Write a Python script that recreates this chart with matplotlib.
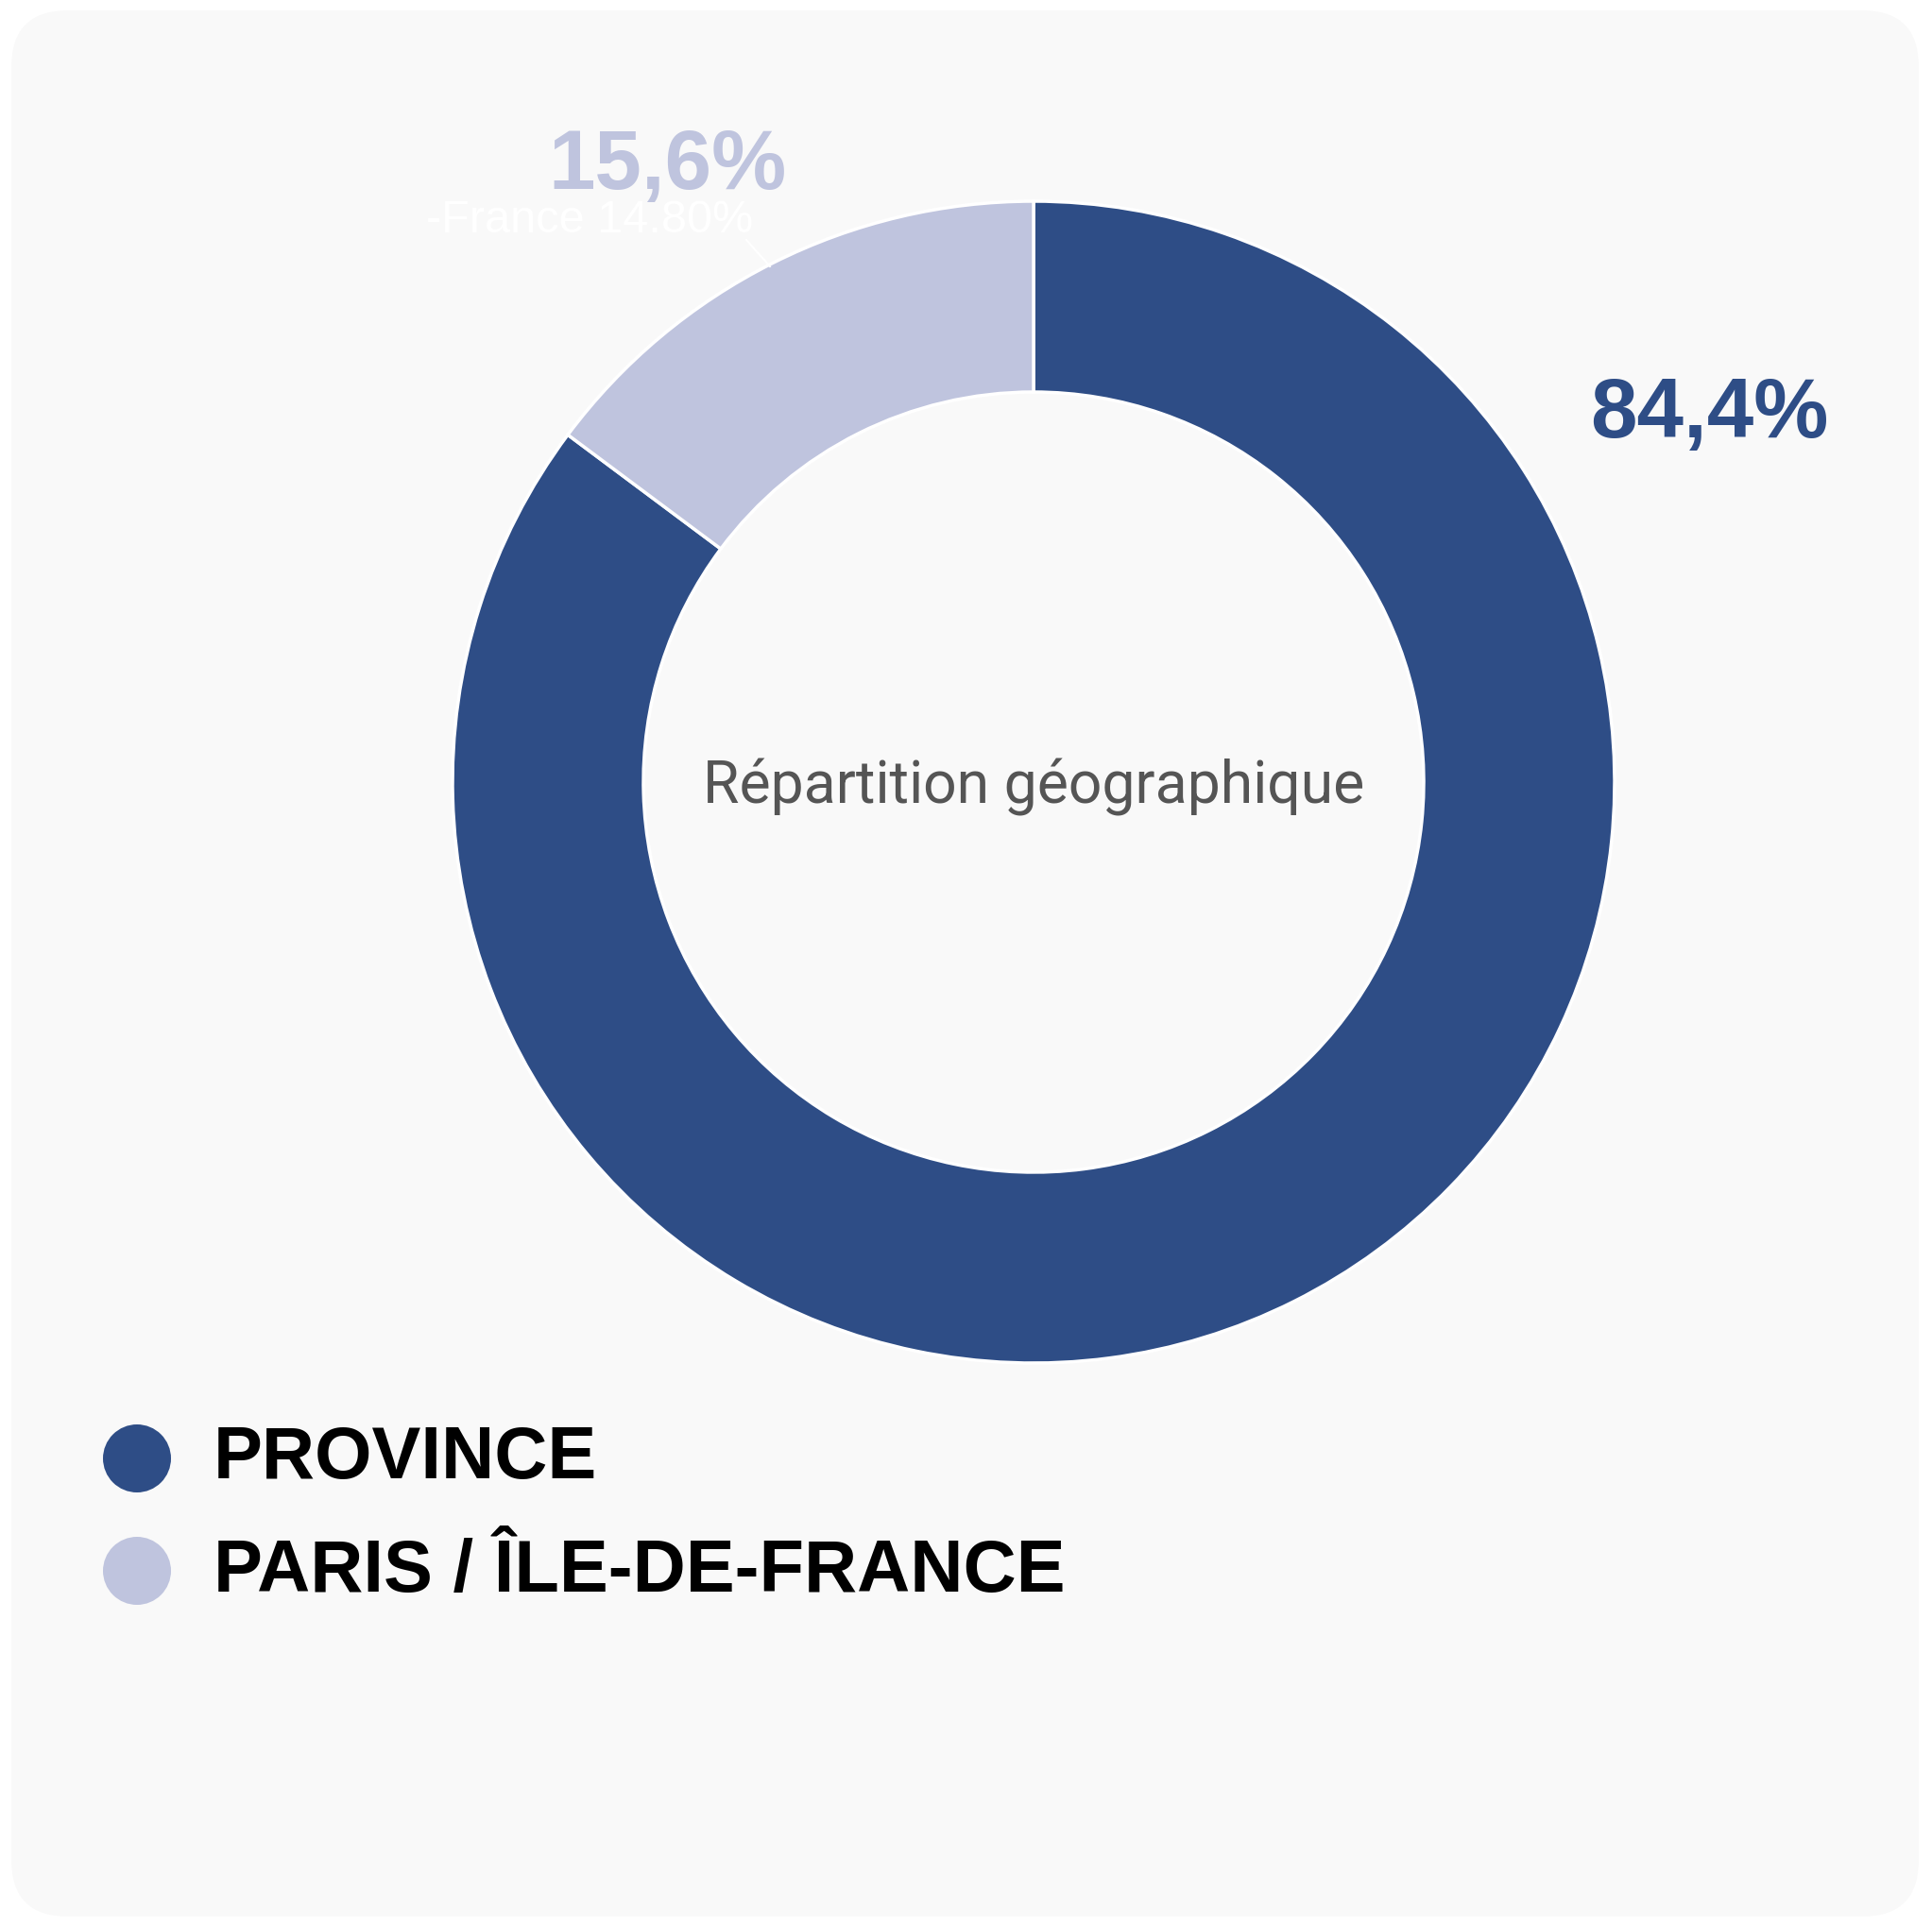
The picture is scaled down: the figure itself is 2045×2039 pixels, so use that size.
import matplotlib
matplotlib.use("Agg")
import matplotlib.pyplot as plt
from matplotlib.patches import FancyBboxPatch, Circle

# Data
categories = ["PROVINCE", "PARIS / ÎLE-DE-FRANCE"]
wedge_values = [85.2, 14.8]
value_labels = ["84,4%", "15,6%"]
hidden_label = "-France 14.80%"
colors = ["#2e4d86", "#bfc4de"]
center_title = "Répartition géographique"

W, H = 2045, 2039
fig = plt.figure(figsize=(W / 100, H / 100), dpi=100, facecolor="white")
ax = fig.add_axes([0, 0, 1, 1])

def Y(y):
    return H - y

# Card background
card = FancyBboxPatch((12, Y(2029)), 2031 - 12, 2029 - 11,
                      boxstyle="round,pad=0,rounding_size=60",
                      facecolor="#f9f9f9", edgecolor="none", zorder=0)
ax.add_patch(card)

cx, cy, R, w = 1094, 828, 615, 202
ax.pie(wedge_values, colors=colors, startangle=90, counterclock=False,
       radius=R, center=(cx, Y(cy)),
       wedgeprops=dict(width=w, edgecolor="white", linewidth=2.5), frame=False)

ax.set_xlim(0, W)
ax.set_ylim(0, H)
ax.set_aspect("equal")
ax.axis("off")

# Center text
ax.text(cx, Y(833), center_title, ha="center", va="center",
        fontsize=45, color="#555555", family="Roboto")

# Percent labels
ax.text(1809, Y(463), value_labels[0], ha="center", va="baseline",
        fontsize=64, fontweight="bold", color=colors[0], family="Liberation Sans")
ax.text(707, Y(200), value_labels[1], ha="center", va="baseline",
        fontsize=64, fontweight="bold", color=colors[1], family="Liberation Sans")

# Faint hidden label and leader line
ax.text(797, Y(246), hidden_label, ha="right", va="baseline",
        fontsize=35, color="#ffffff", family="Liberation Sans")
ax.plot([790, 815], [Y(254), Y(282)], color="#ffffff", lw=1.5)

# Legend
leg_y = [1544, 1663]
text_base = [1565, 1685]
for i, cat in enumerate(categories):
    ax.add_patch(Circle((145, Y(leg_y[i])), 36, facecolor=colors[i], edgecolor="none"))
    ax.text(226, Y(text_base[i]), cat, ha="left", va="baseline",
            fontsize=56, fontweight="bold", color="black", family="Liberation Sans")

fig.savefig("out.png", dpi=100, facecolor="white")
